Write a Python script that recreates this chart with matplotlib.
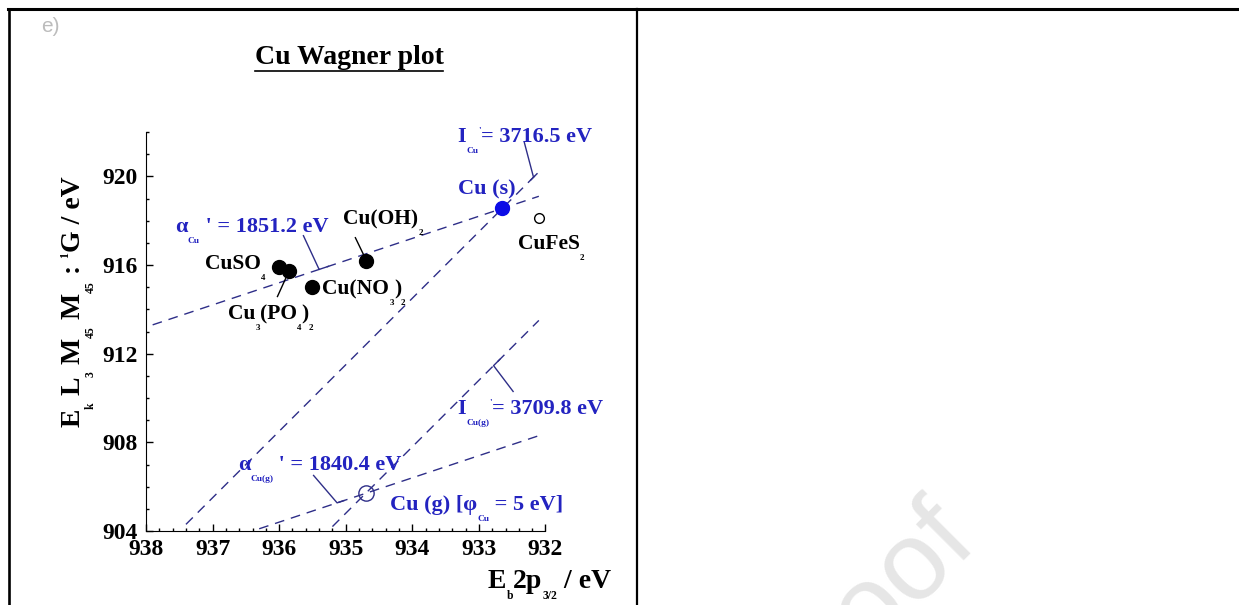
import matplotlib
matplotlib.use('Agg')
import matplotlib.pyplot as plt
import matplotlib.ticker as ticker
import matplotlib.transforms as mtransforms
from matplotlib.lines import Line2D

# measured points: Cu 2p3/2 binding energy vs. Cu L3M45M45 kinetic energy
names = ['Cu(s)', 'CuFeS2', 'Cu(OH)2', 'CuSO4', 'Cu3(PO4)2', 'Cu(NO3)2', 'Cu(g)']
binding = [932.65, 932.1, 934.7, 936.0, 935.85, 935.5, 934.7]
kinetic = [918.55, 918.1, 916.2, 915.9, 915.75, 915.0, 905.7]

# Auger parameter lines: alpha' = KE + BE, I' = KE + 3 BE
alpha_params = [1851.2, 1840.4]
alpha_span = [(937.9, 932.1), (936.3, 932.1)]
i_params = [3716.5, 3709.8]
i_span = [(937.4, 932.1), (935.2, 932.1)]

x_ticks = [938, 937, 936, 935, 934, 933, 932]
y_ticks = [904, 908, 912, 916, 920]

BLUE = '#2323c0'
NAVY = '#2e2e88'
W, H, DPI = 12.39, 6.05, 100


def get_style(name):
    style = {
        'Cu(s)': {'mfc': '#0c0ce6', 'mec': '#0c0ce6', 'ms': 10},
        'CuFeS2': {'mfc': 'white', 'mec': 'black', 'ms': 7},
        'Cu(OH)2': {'mfc': 'black', 'mec': 'black', 'ms': 10},
        'CuSO4': {'mfc': 'black', 'mec': 'black', 'ms': 10},
        'Cu3(PO4)2': {'mfc': 'black', 'mec': 'black', 'ms': 10},
        'Cu(NO3)2': {'mfc': 'black', 'mec': 'black', 'ms': 10},
        'Cu(g)': {'mfc': 'none', 'mec': NAVY, 'ms': 11},
    }
    return style[name]


def rich(fig, x, y, parts, size, color, trans, rotation=0, drop=0.5,
         family='Liberation Serif'):
    # draw text with small, deeply dropped subscripts ('b') and superscripts ('p')
    r = fig.canvas.get_renderer()
    adv = 0.0
    for s, kind in parts:
        fs = size if kind == 'n' else size * 0.42
        dy = {'n': 0.0, 'b': -drop * size, 'p': 0.42 * size}[kind]
        if rotation == 0:
            tr = mtransforms.offset_copy(trans, fig=fig, x=adv, y=dy, units='points')
        else:
            tr = mtransforms.offset_copy(trans, fig=fig, x=-dy, y=adv, units='points')
        t = fig.text(x, y, s, transform=tr, fontsize=fs, color=color,
                     fontweight='bold', family=family, rotation=rotation,
                     rotation_mode='anchor', ha='left', va='baseline')
        bb = t.get_window_extent(r)
        adv += (bb.width if rotation == 0 else bb.height) * 72.0 / fig.dpi
    return adv


def leader(ax, pts, color=NAVY):
    xs = [p[0] for p in pts]
    ys = [p[1] for p in pts]
    ax.plot(xs, ys, color=color, linewidth=1.0, solid_capstyle='butt')


def plot():
    plt.rcParams['font.family'] = 'Liberation Serif'
    plt.rcParams['font.weight'] = 'bold'
    fig = plt.figure(figsize=(W, H), dpi=DPI)

    # faint watermark behind everything
    fig.text(980 / 1239, 1 - 546 / 605, 'Journal Pre-proof', family='Liberation Sans',
             fontsize=80, fontweight='normal', color='#e6e6e6', rotation=45,
             rotation_mode='anchor', ha='right', va='baseline', zorder=0)

    # table rules
    for xs, ys, lw in [((8, 1239), (9, 9), 2.2), ((9, 9), (9, 605), 1.9),
                       ((637, 637), (9, 605), 1.6)]:
        fig.add_artist(Line2D([x / 1239 for x in xs], [1 - y / 605 for y in ys],
                              color='black', linewidth=lw,
                              transform=fig.transFigure))

    fig.text(41 / 1239, 1 - 32 / 605, 'e)', family='Liberation Sans', fontsize=15,
             fontweight='normal', color='#bcbcbc')

    ax = fig.add_axes([146 / 1239, 74 / 605, 399.5 / 1239, 399 / 605])
    ax.set_xlim(938, 932)
    ax.set_ylim(904, 922)
    ax.spines['top'].set_visible(False)
    ax.spines['right'].set_visible(False)
    ax.xaxis.set_major_locator(ticker.FixedLocator(x_ticks))
    ax.yaxis.set_major_locator(ticker.FixedLocator(y_ticks))
    ax.xaxis.set_minor_locator(ticker.MultipleLocator(0.2))
    ax.yaxis.set_minor_locator(ticker.MultipleLocator(1))
    ax.tick_params(which='both', direction='in', width=1.0)
    ax.tick_params(which='major', length=5, labelsize=17)
    ax.tick_params(which='minor', length=2.5)
    ax.tick_params(axis='x', pad=6)
    ax.tick_params(axis='y', pad=6)

    # Auger parameter lines
    for a, (b0, b1) in zip(alpha_params, alpha_span):
        ax.plot([b0, b1], [a - b0, a - b1], color=NAVY, linewidth=1.0,
                dashes=(7, 5))
    for i, (b0, b1) in zip(i_params, i_span):
        ax.plot([b0, b1], [i - 3 * b0, i - 3 * b1], color=NAVY, linewidth=1.0,
                dashes=(7, 5))

    for name, be, ke in zip(names, binding, kinetic):
        st = get_style(name)
        ax.plot(be, ke, 'o', markersize=st['ms'], markerfacecolor=st['mfc'],
                markeredgecolor=st['mec'], markeredgewidth=1.0, zorder=5)

    # leaders from the labels to their lines / points
    a_cu, a_g = alpha_params
    i_cu, i_g = i_params
    leader(ax, [(932.32, 921.55), (932.18, i_cu - 3 * 932.18)])
    leader(ax, [(932.23, i_cu - 3 * 932.23), (932.12, i_cu - 3 * 932.12)])
    leader(ax, [(935.64, 917.35), (935.40, a_cu - 935.40), (935.25, a_cu - 935.25)])
    leader(ax, [(932.48, 910.27), (932.78, i_g - 3 * 932.78), (932.68, i_g - 3 * 932.68)])
    leader(ax, [(935.49, 906.53), (935.13, a_g - 935.13), (935.02, a_g - 935.02)])
    leader(ax, [(934.86, 917.26), (934.73, 916.45)], color='black')
    leader(ax, [(936.03, 914.55), (935.90, 915.41)], color='black')

    fig.canvas.draw()
    td = ax.transData

    rich(fig, 933.32, 921.55, [('I', 'n'), ('Cu', 'b'), ("'", 'p'),
                               ('= 3716.5 eV', 'n')], 16, BLUE, td)
    rich(fig, 933.31, 919.2, [('Cu (s)', 'n')], 16, BLUE, td)
    rich(fig, 937.56, 917.49, [('α', 'n'), ('Cu', 'b'), (" ' = 1851.2 eV", 'n')],
         16, BLUE, td)
    rich(fig, 933.32, 909.28, [('I', 'n'), ('Cu(g)', 'b'), ("'", 'p'),
                               ('= 3709.8 eV', 'n')], 16, BLUE, td)
    rich(fig, 936.62, 906.75, [('α', 'n'), ('Cu(g)', 'b'), (" ' = 1840.4 eV", 'n')],
         16, BLUE, td)
    rich(fig, 934.33, 904.95, [('Cu (g) [φ', 'n'), ('Cu', 'b'), (' = 5 eV]', 'n')],
         16, BLUE, td)

    rich(fig, 935.04, 917.85, [('Cu(OH)', 'n'), ('2', 'b')], 15.5, 'black', td)
    rich(fig, 932.41, 916.72, [('CuFeS', 'n'), ('2', 'b')], 15.5, 'black', td)
    rich(fig, 937.11, 915.82, [('CuSO', 'n'), ('4', 'b')], 15.5, 'black', td)
    rich(fig, 935.35, 914.69, [('Cu(NO', 'n'), ('3', 'b'), (')', 'n'), ('2', 'b')],
         15.5, 'black', td)
    rich(fig, 936.77, 913.56, [('Cu', 'n'), ('3', 'b'), ('(PO', 'n'), ('4', 'b'),
                               (')', 'n'), ('2', 'b')], 15.5, 'black', td)

    tf = fig.transFigure
    rich(fig, 80 / 1239, 1 - 427 / 605,
         [('E', 'n'), ('k', 'b'), (' L', 'n'), ('3', 'b'), (' M', 'n'), ('45', 'b'),
          (' M', 'n'), ('45', 'b'), (' : ', 'n'), ('1', 'p'), ('G / eV', 'n')],
         20, 'black', tf, rotation=90)
    rich(fig, 488 / 1239, 1 - 588 / 605,
         [('E', 'n'), ('b', 'b'), ('2p', 'n'), ('3/2', 'b'), (' / eV', 'n')],
         20, 'black', tf, drop=0.38)

    # underlined title
    title = fig.text(349 / 1239, 1 - 64 / 605, 'Cu Wagner plot', fontsize=20,
                     fontweight='bold', ha='center', va='baseline')
    bb = title.get_window_extent(fig.canvas.get_renderer())
    uy = 1 - 71 / 605
    fig.add_artist(Line2D([bb.x0 / fig.bbox.width, bb.x1 / fig.bbox.width], [uy, uy],
                          color='black', linewidth=1.2, transform=tf))

    fig.savefig('out.png', dpi=DPI)


if __name__ == '__main__':
    plot()
